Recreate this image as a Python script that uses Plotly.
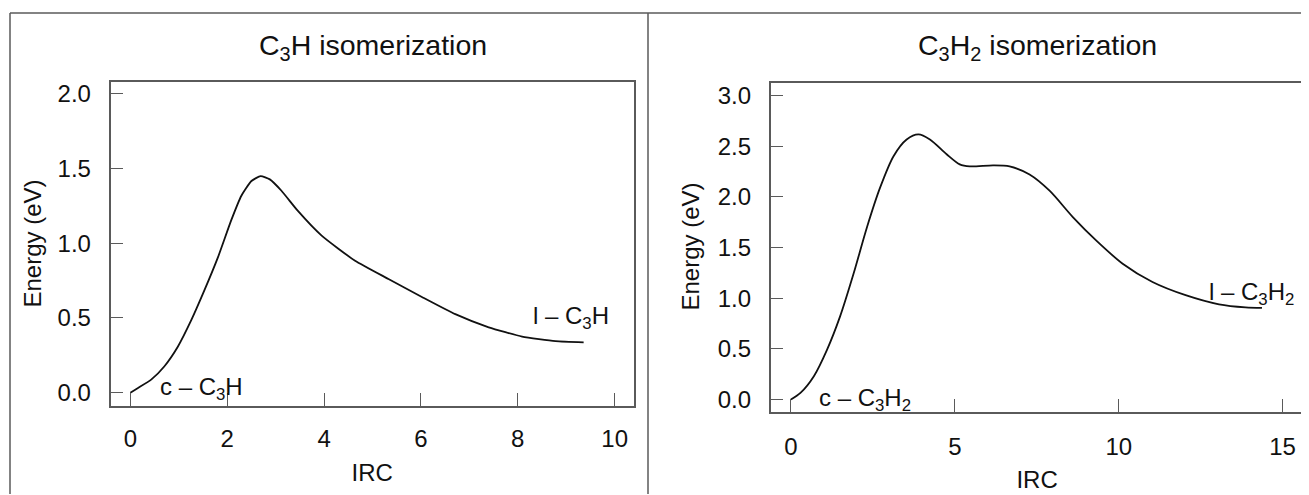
import plotly.graph_objects as go

# ---------------- data ----------------
irc_c3h = [0.0, 0.15, 0.43, 0.70, 0.98, 1.26, 1.53, 1.81, 2.08, 2.29, 2.50, 2.69,
           2.88, 3.12, 3.46, 3.95, 4.64, 5.33, 6.02, 6.71, 7.40, 8.09, 8.78, 9.36]
e_c3h = [0.0, 0.03, 0.087, 0.175, 0.307, 0.486, 0.685, 0.906, 1.15, 1.315, 1.415, 1.448,
         1.426, 1.35, 1.215, 1.05, 0.882, 0.76, 0.64, 0.525, 0.437, 0.375, 0.344, 0.336]

irc_c3h2 = [0.0, 0.29, 0.70, 1.10, 1.50, 1.91, 2.32, 2.72, 3.13, 3.53, 3.89, 4.24,
            4.75, 5.15, 5.46, 6.17, 6.67, 7.28, 7.89, 8.60, 9.31, 10.12, 11.03,
            12.04, 13.06, 13.87, 14.37]
e_c3h2 = [0.0, 0.065, 0.23, 0.49, 0.82, 1.24, 1.70, 2.09, 2.40, 2.565, 2.615, 2.565,
          2.42, 2.32, 2.30, 2.31, 2.30, 2.22, 2.06, 1.80, 1.57, 1.34, 1.16,
          1.03, 0.94, 0.91, 0.905]

titles = ["C<sub>3</sub>H isomerization", "C<sub>3</sub>H<sub>2</sub> isomerization"]
x_title = "IRC"
y_title = "Energy (eV)"
labels_left = ["c – C<sub>3</sub>H", "l – C<sub>3</sub>H"]
labels_right = ["c – C<sub>3</sub>H<sub>2</sub>", "l – C<sub>3</sub>H<sub>2</sub>"]
label_pos_left = [(0.58, 0.03), (8.27, 0.50)]
label_pos_right = [(0.8, 0.0), (12.7, 1.05)]

x_ticks_left = [0, 2, 4, 6, 8, 10]
y_ticks_left = [0.0, 0.5, 1.0, 1.5, 2.0]
x_ticks_right = [0, 5, 10, 15]
y_ticks_right = [0.0, 0.5, 1.0, 1.5, 2.0, 2.5, 3.0]

# ---------------- layout helpers ----------------
OFF = 8                      # page body margin
W, H = 1309 - OFF, 495 - OFF
FONT = "Liberation Sans, Arial, Helvetica, sans-serif"
TXT = "#111111"
GRAY = "#5a5a5a"


def px_x(p):
    return (p - OFF) / W


def px_y(p):
    return 1 - (p - OFF) / H


fig = go.Figure()

fig.add_trace(go.Scatter(x=irc_c3h, y=e_c3h, mode="lines",
                         line=dict(color="#111111", width=1.8, shape="spline", smoothing=0.5),
                         xaxis="x", yaxis="y", showlegend=False, hoverinfo="x+y"))
fig.add_trace(go.Scatter(x=irc_c3h2, y=e_c3h2, mode="lines",
                         line=dict(color="#111111", width=1.8, shape="spline", smoothing=0.8),
                         xaxis="x2", yaxis="y2", showlegend=False, hoverinfo="x+y"))

axis_common = dict(showline=True, linecolor=GRAY, linewidth=1.5, mirror=True,
                   showgrid=False, zeroline=False, ticks="inside", ticklen=13,
                   tickwidth=1, tickcolor=GRAY,
                   tickfont=dict(family=FONT, size=24, color=TXT))
title_font = dict(family=FONT, size=24, color=TXT)

fig.update_layout(
    width=W, height=H,
    margin=dict(l=0, r=0, t=0, b=0),
    paper_bgcolor="white", plot_bgcolor="white",
    font=dict(family=FONT, color=TXT),
    xaxis=dict(axis_common, domain=[px_x(110.5), px_x(634)], range=[-0.41, 10.40],
               tickvals=x_ticks_left, ticklabelstandoff=11, anchor="y",
               title=dict(text=x_title, font=title_font, standoff=13)),
    yaxis=dict(axis_common, domain=[px_y(406), px_y(80)], range=[-0.086, 2.08],
               tickvals=y_ticks_left, tickformat=".1f", ticklabelstandoff=13, anchor="x"),
    xaxis2=dict(axis_common, domain=[px_x(770.6), px_x(1303.6)], range=[-0.62, 15.64],
                tickvals=x_ticks_right, ticklabelstandoff=13, anchor="y2",
                title=dict(text=x_title, font=title_font, standoff=12)),
    yaxis2=dict(axis_common, domain=[px_y(412), px_y(81)], range=[-0.118, 3.127],
                tickvals=y_ticks_right, tickformat=".1f", ticklabelstandoff=13, anchor="x2"),
)

# y-axis titles (rotated)
for cx, cy in [(33, 243), (691, 246)]:
    fig.add_annotation(text=y_title, x=px_x(cx), y=px_y(cy), xref="paper", yref="paper",
                       showarrow=False, textangle=-90, xanchor="center", yanchor="middle",
                       font=title_font)

# subplot titles
for t, cx in zip(titles, [373, 1037]):
    fig.add_annotation(text=t, x=px_x(cx), y=px_y(45), xref="paper", yref="paper",
                       showarrow=False, xanchor="center", yanchor="middle",
                       font=dict(family=FONT, size=28.5, color=TXT))

# species labels
for t, (xx, yy) in zip(labels_left, label_pos_left):
    fig.add_annotation(text=t, x=xx, y=yy, xref="x", yref="y", showarrow=False,
                       xanchor="left", yanchor="middle",
                       font=dict(family=FONT, size=24, color=TXT))
for t, (xx, yy) in zip(labels_right, label_pos_right):
    fig.add_annotation(text=t, x=xx, y=yy, xref="x2", yref="y2", showarrow=False,
                       xanchor="left", yanchor="middle",
                       font=dict(family=FONT, size=24, color=TXT))

# outer frame lines
frame = dict(color=GRAY, width=1.5)
fig.add_shape(type="line", xref="paper", yref="paper", x0=px_x(10), x1=px_x(10),
              y0=px_y(11), y1=0, line=frame)
fig.add_shape(type="line", xref="paper", yref="paper", x0=px_x(10), x1=1,
              y0=px_y(11), y1=px_y(11), line=frame)
fig.add_shape(type="line", xref="paper", yref="paper", x0=px_x(648), x1=px_x(648),
              y0=px_y(11), y1=0, line=frame)

fig.write_html("out.html")
